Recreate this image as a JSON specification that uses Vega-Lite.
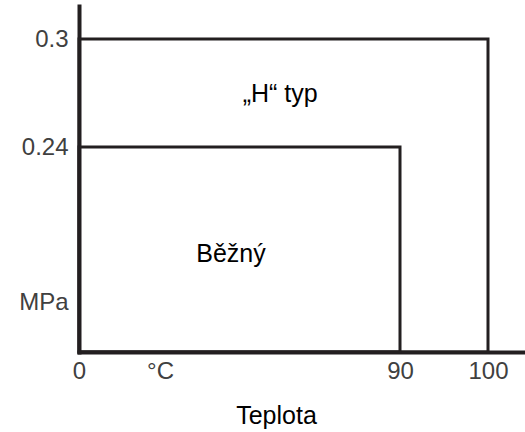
{
  "$schema": "https://vega.github.io/schema/vega-lite/v6.json",
  "width": 444,
  "height": 346,
  "autosize": {"type": "none"},
  "padding": {"left": 79, "top": 6, "right": 2, "bottom": 80},
  "background": "white",
  "config": {
    "view": {"stroke": null},
    "font": "Liberation Sans"
  },
  "datasets": {
    "ranges": [
      {"typ": "„H“ typ", "t0": 0, "t": 100, "p0": 0, "p": 0.3},
      {"typ": "Běžný", "t0": 0, "t": 90, "p0": 0, "p": 0.24}
    ],
    "labels": [
      {"text": "„H“ typ", "t": 56.4, "p": 0.2694},
      {"text": "Běžný", "t": 42.6, "p": 0.1147}
    ]
  },
  "layer": [
    {
      "data": {"name": "ranges"},
      "mark": {"type": "rect", "fill": null, "filled": false, "stroke": "#231f20", "strokeWidth": 3},
      "encoding": {
        "x": {
          "field": "t0",
          "type": "quantitative",
          "scale": {"domain": [0, 90, 100, 104], "range": [0, 321, 409, 444], "nice": false, "zero": false},
          "axis": {
            "values": [0, 22.71, 90, 100],
            "format": "d",
            "labelExpr": "datum.value > 20 && datum.value < 30 ? '°C' : datum.label",
            "ticks": false,
            "grid": false,
            "domainColor": "#231f20",
            "domainWidth": 4,
            "domainCap": "square",
            "labelFontSize": 24,
            "labelColor": "#404040",
            "labelPadding": 7,
            "labelFlush": false,
            "labelOverlap": false,
            "labelBound": false,
            "title": "Teplota",
            "titleFontSize": 25,
            "titleFontWeight": "normal",
            "titleColor": "#000000",
            "titleX": 197,
            "titleY": 71,
            "titleAlign": "center",
            "titleBaseline": "alphabetic"
          }
        },
        "x2": {"field": "t"},
        "y": {
          "field": "p0",
          "type": "quantitative",
          "scale": {"domain": [0, 0.24, 0.3, 0.31833], "range": [346, 141, 33, 0], "nice": false, "zero": false},
          "axis": {
            "values": [0.0574, 0.24, 0.3],
            "format": "~g",
            "labelExpr": "datum.value < 0.1 ? 'MPa' : datum.label",
            "ticks": false,
            "grid": false,
            "domainColor": "#231f20",
            "domainWidth": 4,
            "domainCap": "square",
            "labelFontSize": 24,
            "labelColor": "#404040",
            "labelPadding": 11,
            "labelOverlap": false,
            "labelFlush": false,
            "labelBound": false,
            "title": null
          }
        },
        "y2": {"field": "p"}
      }
    },
    {
      "data": {"name": "labels"},
      "mark": {"type": "text", "fontSize": 25, "color": "#000000", "align": "center", "baseline": "middle"},
      "encoding": {
        "x": {"field": "t", "type": "quantitative"},
        "y": {"field": "p", "type": "quantitative"},
        "text": {"field": "text"}
      }
    }
  ]
}
